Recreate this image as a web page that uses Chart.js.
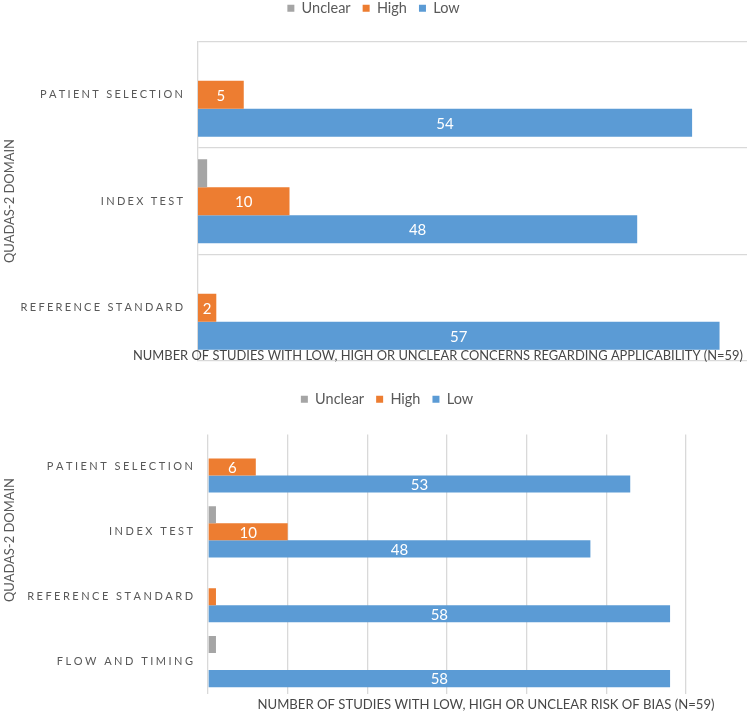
<!DOCTYPE html>
<html>
<head>
<meta charset="utf-8">
<script src="https://cdn.jsdelivr.net/npm/chart.js@4.4.1/dist/chart.umd.min.js"></script>
<style>
  html, body { margin: 0; padding: 0; background: #fff; }
  body { width: 749px; height: 716px; position: relative; overflow: hidden; }
  .box { position: absolute; left: 0; width: 749px; }
  #top { top: -11px; height: 377px; }
  #bottom { top: 380px; height: 336px; }
</style>
</head>
<body>
<div class="box" id="top"><canvas id="applicabilityChart"></canvas></div>
<div class="box" id="bottom"><canvas id="biasChart"></canvas></div>
<script>
// series shared by both panels
const seriesNames = ['Unclear', 'High', 'Low'];
const seriesColors = ['#A5A5A5', '#ED7D31', '#5B9BD5'];

// top panel: applicability concerns
const applicabilityDomains = ['PATIENT SELECTION', 'INDEX TEST', 'REFERENCE STANDARD'];
const applicabilityUnclear = [0, 1, 0];
const applicabilityHigh = [5, 10, 2];
const applicabilityLow = [54, 48, 57];

// bottom panel: risk of bias
const biasDomains = ['PATIENT SELECTION', 'INDEX TEST', 'REFERENCE STANDARD', 'FLOW AND TIMING'];
const biasUnclear = [0, 1, 0, 1];
const biasHigh = [6, 10, 1, 0];
const biasLow = [53, 48, 58, 58];

const axisMax = 60;
const axisStep = 10;
const yTitle = 'QUADAS-2 DOMAIN';
const applicabilityTitle = 'NUMBER OF STUDIES WITH LOW, HIGH OR UNCLEAR CONCERNS REGARDING APPLICABILITY (N=59)';
const biasTitle = 'NUMBER OF STUDIES WITH LOW, HIGH OR UNCLEAR RISK OF BIAS (N=59)';

const FONT = 'Lato, "Open Sans", sans-serif';
const GREY = '#595959';
const GRID = '#d9d9d9';

// letter-spaced text, right aligned
function spacedText(ctx, text, right, y, spacing) {
    const chars = [...text];
    const widths = chars.map(ch => ctx.measureText(ch).width);
    const total = widths.reduce((a, b) => a + b, 0) + spacing * (chars.length - 1);
    let x = right - total;
    ctx.textAlign = 'left';
    chars.forEach((ch, i) => {
        ctx.fillText(ch, x, y);
        x += widths[i] + spacing;
    });
}

function decorations(cfg) {
    return {
        id: 'decor',
        beforeInit(chart) {
            // extra room between legend and plot
            const fit = chart.legend.fit;
            chart.legend.fit = function () {
                fit.call(this);
                this.height += cfg.legendGap;
            };
        },
        afterDatasetsDraw(chart) {
            const ctx = chart.ctx;
            const area = chart.chartArea;
            ctx.save();

            // value labels inside High / Low bars
            ctx.fillStyle = '#ffffff';
            ctx.font = '15px ' + FONT;
            ctx.textAlign = 'center';
            ctx.textBaseline = 'middle';
            chart.data.datasets.forEach((ds, i) => {
                if (ds.label === 'Unclear') return;
                chart.getDatasetMeta(i).data.forEach((bar, j) => {
                    const v = ds.data[j];
                    if (v < 2) return;
                    ctx.fillText(String(v), (bar.base + bar.x) / 2, bar.y + 1);
                });
            });

            // category labels, letter spaced
            const yScale = chart.scales.y;
            ctx.fillStyle = GREY;
            ctx.font = '11px ' + FONT;
            chart.data.labels.forEach((lab, j) => {
                spacedText(ctx, lab, area.left - cfg.labelGap, yScale.getPixelForValue(j), cfg.spacing);
            });

            // vertical axis title
            ctx.save();
            ctx.translate(cfg.yTitleX, cfg.yTitleY);
            ctx.rotate(-Math.PI / 2);
            ctx.font = '13px ' + FONT;
            ctx.textAlign = 'center';
            ctx.fillText(yTitle, 0, 0, 124);
            ctx.restore();

            // horizontal axis title
            ctx.fillStyle = '#474747';
            ctx.font = cfg.xTitleSize + 'px ' + FONT;
            ctx.textAlign = 'center';
            ctx.fillText(cfg.xTitle, cfg.xTitleX, area.bottom + cfg.xTitleOffset, cfg.xTitleWidth);

            ctx.restore();
        }
    };
}

function buildChart(canvasId, labels, unclear, high, low, cfg) {
    const ctx = document.getElementById(canvasId).getContext('2d');
    return new Chart(ctx, {
        type: 'bar',
        data: {
            labels: labels,
            datasets: [unclear, high, low].map((values, i) => ({
                label: seriesNames[i],
                data: values,
                backgroundColor: seriesColors[i],
                borderWidth: 0,
                categoryPercentage: 0.79,
                barPercentage: 1
            }))
        },
        options: {
            indexAxis: 'y',
            responsive: true,
            maintainAspectRatio: false,
            animation: false,
            layout: { padding: cfg.padding },
            plugins: {
                legend: {
                    position: 'top',
                    labels: {
                        boxWidth: 7,
                        boxHeight: 7,
                        padding: 12,
                        color: GREY,
                        font: { family: FONT, size: 14.5 }
                    }
                },
                tooltip: { enabled: false }
            },
            scales: {
                x: {
                    min: 0,
                    max: axisMax,
                    display: cfg.verticalGrid,
                    ticks: { display: false, stepSize: axisStep },
                    grid: { display: cfg.verticalGrid, color: GRID, lineWidth: 1.3, drawTicks: false },
                    border: { display: false },
                    afterFit(scale) { scale.height = 0; }
                },
                y: {
                    ticks: { display: false },
                    grid: { display: !cfg.verticalGrid, offset: true, color: GRID, lineWidth: 1.3, drawTicks: false },
                    border: { display: !cfg.verticalGrid, color: GRID, width: 1.3 },
                    afterFit(scale) { scale.width = cfg.yAxisWidth; }
                }
            }
        },
        plugins: [decorations(cfg)]
    });
}

buildChart('applicabilityChart', applicabilityDomains, applicabilityUnclear, applicabilityHigh, applicabilityLow, {
    padding: { top: 0, left: 0, right: 2, bottom: 5 },
    yAxisWidth: 198,
    legendGap: 16,
    verticalGrid: false,
    labelGap: 15,
    spacing: 2.3,
    yTitleX: 10,
    yTitleY: 212,
    xTitle: applicabilityTitle,
    xTitleSize: 13,
    xTitleX: 438,
    xTitleOffset: -5,
    xTitleWidth: 610
});

buildChart('biasChart', biasDomains, biasUnclear, biasHigh, biasLow, {
    padding: { top: 0, left: 88, right: 63, bottom: 22 },
    yAxisWidth: 120,
    legendGap: 18,
    verticalGrid: true,
    labelGap: 15,
    spacing: 2.5,
    yTitleX: 10,
    yTitleY: 160,
    xTitle: biasTitle,
    xTitleSize: 13.5,
    xTitleX: 486,
    xTitleOffset: 11,
    xTitleWidth: 457
});
</script>
</body>
</html>
